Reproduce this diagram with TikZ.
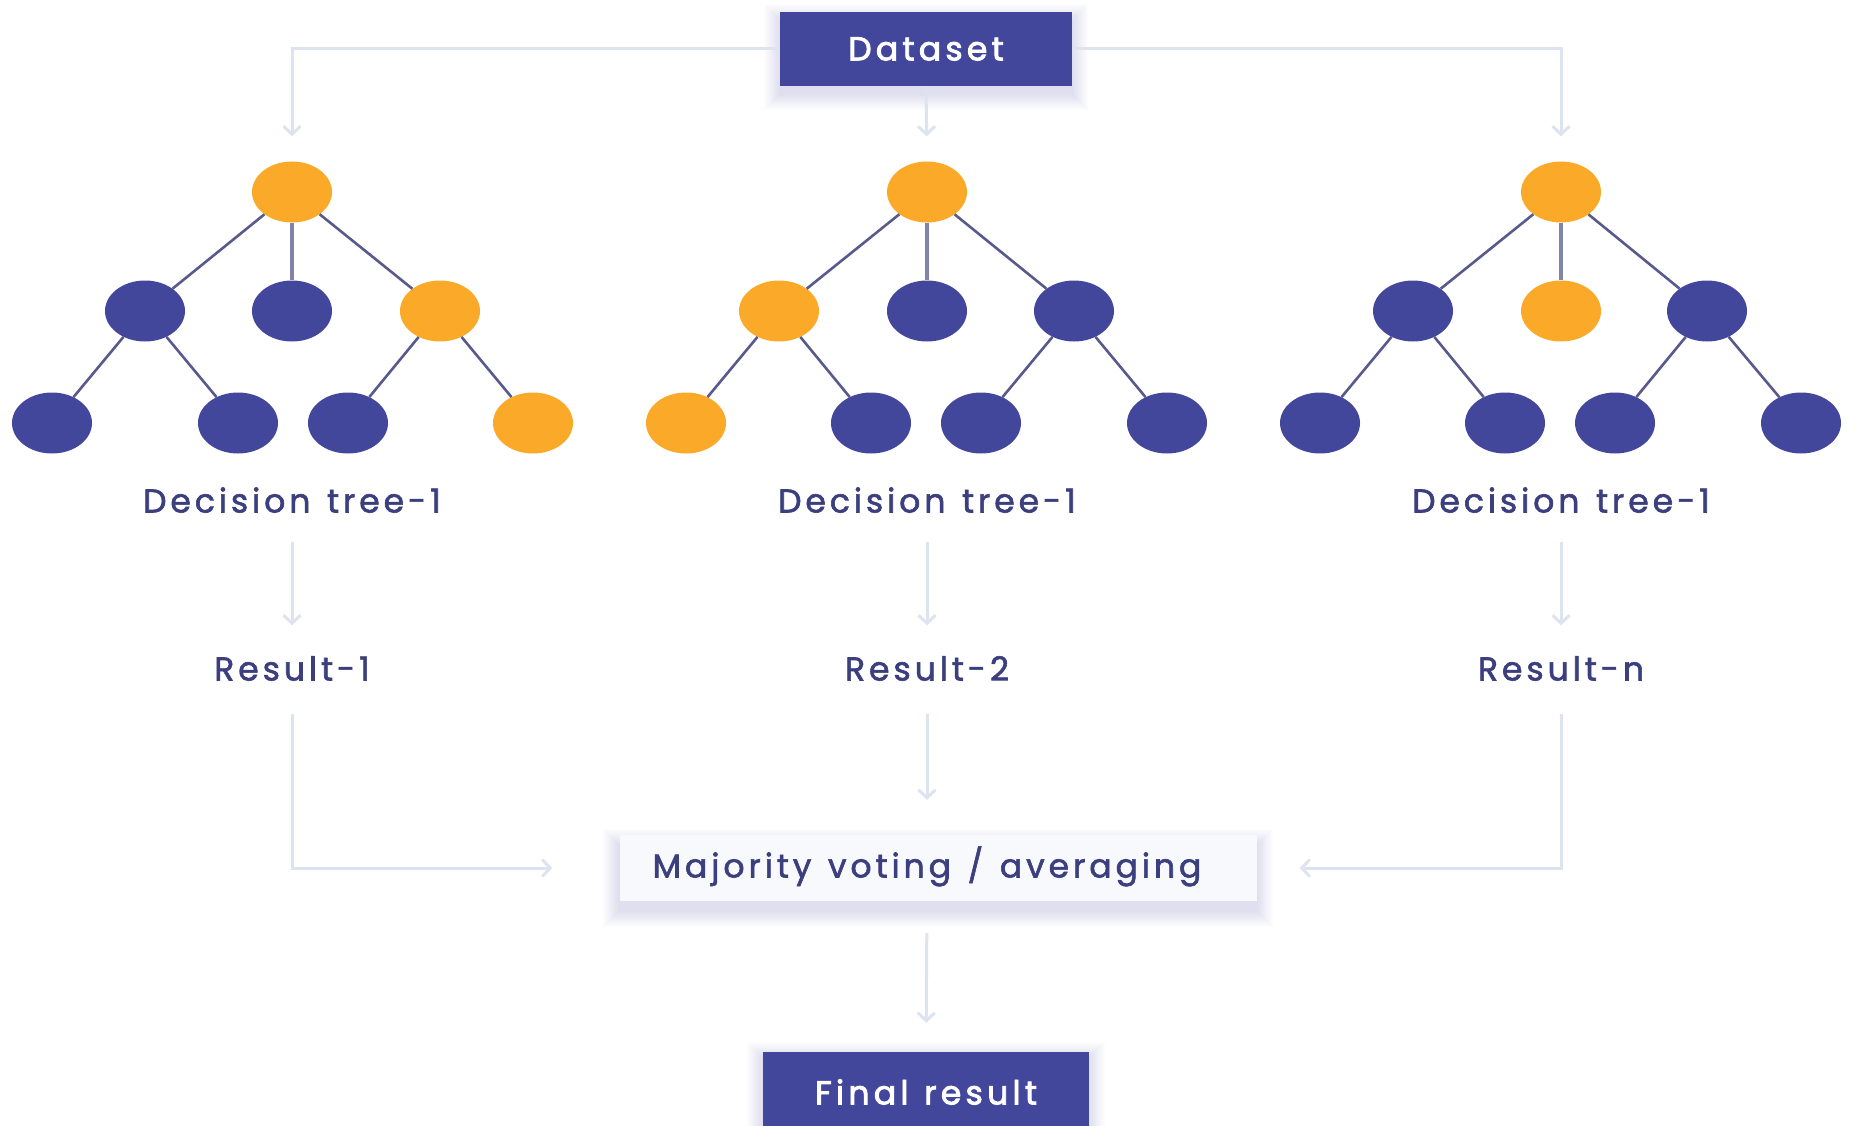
\documentclass[tikz,border=0pt]{standalone}
\usepackage{fontspec}
\setmainfont{Poppins}[LetterSpace=12,WordSpace=1.3,FakeBold=1.8]
\newfontfamily\boxfont{Poppins}[LetterSpace=13,WordSpace=1.2,FakeBold=2.6]
\usetikzlibrary{shapes.geometric,arrows.meta}
\pgfdeclarelayer{bg}
\pgfdeclarelayer{shl}
\pgfsetlayers{bg,shl,main}
\definecolor{indigo}{RGB}{66,71,155}
\definecolor{amber}{RGB}{250,170,40}
\definecolor{edgec}{RGB}{88,90,140}
\definecolor{txtc}{RGB}{60,63,125}
\definecolor{flowc}{RGB}{222,227,240}
\definecolor{majfill}{RGB}{248,249,253}
\definecolor{shadc}{RGB}{60,66,130}
\tikzset{
  bnode/.style={ellipse,fill=indigo,minimum width=80pt,minimum height=61pt,inner sep=0pt},
  onode/.style={ellipse,fill=amber,minimum width=80pt,minimum height=61pt,inner sep=0pt},
  tedge/.style={draw=edgec,line width=2.6pt},
  vedge/.style={draw=edgec!75,line width=4pt},
  flow/.style={draw=flowc,line width=3pt,-{Straight Barb[length=8pt,width=17pt,line width=3pt]}},
  lbl/.style={text=txtc,font=\fontsize{33}{38}\selectfont,inner sep=0pt,text height=23pt,text depth=0pt},
  darkbox/.style={fill=indigo,text=white,font=\boxfont\fontsize{33}{38}\selectfont,inner sep=0pt},
}
\newcommand{\softshade}[2]{%
  \foreach \i in {1,...,16}{
    \fill[shadc,opacity=0.007] ([xshift=-\i pt,yshift=-\i pt-#2]#1.south west) rectangle ([xshift=\i pt,yshift=\i pt-#2]#1.north east);
  }}
\begin{document}
\begin{tikzpicture}[x=1pt,y=-1pt]
\begin{pgfonlayer}{bg}
\fill[white] (0,0) rectangle (1854,1126);
\end{pgfonlayer}
\useasboundingbox (0,0) rectangle (1854,1126);
% top box
\node[darkbox,minimum width=292pt,minimum height=74pt] (ds) at (926,49) {Dataset};
% tree 1
\node[onode] (t1r) at (292,192) {};
\node[bnode] (t1a) at (145,311) {};
\node[bnode] (t1b) at (292,311) {};
\node[onode] (t1c) at (440,311) {};
\node[bnode] (t1d) at (52,423) {};
\node[bnode] (t1e) at (238,423) {};
\node[bnode] (t1f) at (348,423) {};
\node[onode] (t1g) at (533,423) {};
% tree 2
\node[onode] (t2r) at (927,192) {};
\node[onode] (t2a) at (779,311) {};
\node[bnode] (t2b) at (927,311) {};
\node[bnode] (t2c) at (1074,311) {};
\node[onode] (t2d) at (686,423) {};
\node[bnode] (t2e) at (871,423) {};
\node[bnode] (t2f) at (981,423) {};
\node[bnode] (t2g) at (1167,423) {};
% tree 3
\node[onode] (t3r) at (1561,192) {};
\node[bnode] (t3a) at (1413,311) {};
\node[onode] (t3b) at (1561,311) {};
\node[bnode] (t3c) at (1707,311) {};
\node[bnode] (t3d) at (1320,423) {};
\node[bnode] (t3e) at (1505,423) {};
\node[bnode] (t3f) at (1615,423) {};
\node[bnode] (t3g) at (1801,423) {};
% tree edges
\foreach \t in {1,2,3}{
  \path[tedge] (t\t r) -- (t\t a);
  \path[tedge] (t\t r) -- (t\t c);
  \path[vedge] (t\t r) -- (t\t b);
  \path[tedge] (t\t a) -- (t\t d);
  \path[tedge] (t\t a) -- (t\t e);
  \path[tedge] (t\t c) -- (t\t f);
  \path[tedge] (t\t c) -- (t\t g);
}
% labels
\node[lbl] (l1) at (292,501) {Decision tree-1};
\node[lbl] (l2) at (927,501) {Decision tree-1};
\node[lbl] (l3) at (1561,501) {Decision tree-1};
\node[lbl] (r1) at (292,669) {Result-1};
\node[lbl] (r2) at (927,669) {Result-2};
\node[lbl] (r3) at (1561,669) {Result-n};
% majority box
\node[fill=majfill,inner sep=0pt,minimum width=637pt,minimum height=66pt] (maj) at (938,868) {};
\node[lbl] (majt) at (927,866) {Majority voting / averaging};
% final
\node[darkbox,minimum width=326pt,minimum height=80pt] (fin) at (926,1092) {Final result};
% shadows
\begin{pgfonlayer}{shl}
\softshade{ds}{8pt}
\softshade{maj}{10pt}
\softshade{fin}{6pt}
\end{pgfonlayer}
% flows from dataset
\draw[flow,shorten >=25pt] (ds.west) -| (t1r.north);
\draw[flow,shorten >=25pt] (ds.east) -| (t3r.north);
\draw[flow,shorten >=25pt] (ds.south) -- (t2r.north);
% labels to results
\draw[flow,shorten <=29pt,shorten >=32pt] (l1.south) -- (r1.north);
\draw[flow,shorten <=29pt,shorten >=32pt] (l2.south) -- (r2.north);
\draw[flow,shorten <=29pt,shorten >=32pt] (l3.south) -- (r3.north);
% results to majority
\draw[flow,shorten <=33pt,shorten >=67pt] (r1.south) |- (maj.west);
\draw[flow,shorten <=33pt,shorten >=43pt] (r3.south) |- (maj.east);
\draw[flow,shorten <=33pt,shorten >=35pt] (r2.south) -- (r2.south |- maj.north);
\draw[flow,shorten <=32pt,shorten >=29pt] (maj.south -| majt) -- (fin.north);
\end{tikzpicture}
\end{document}
